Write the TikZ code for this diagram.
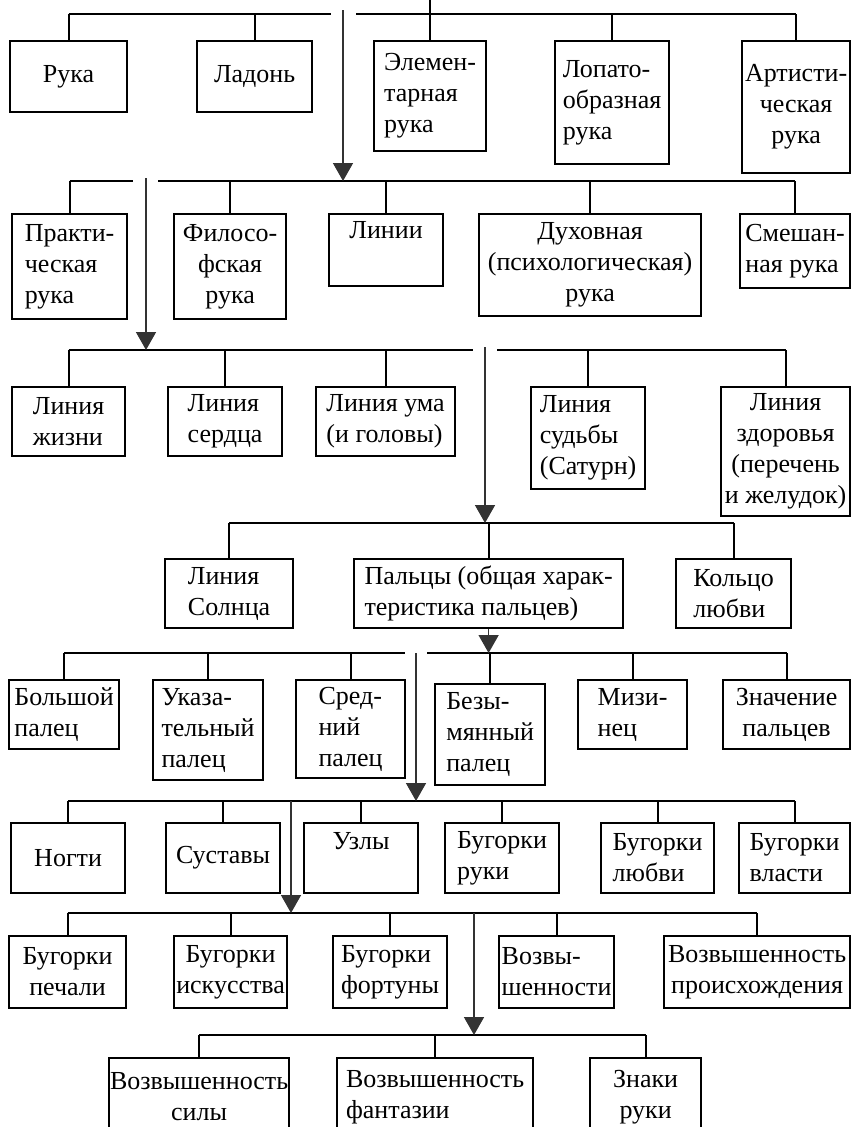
\documentclass[tikz,border=0pt]{standalone}
\usepackage{fontspec}
\setmainfont{Liberation Serif}
\usetikzlibrary{arrows.meta, positioning, calc}
\tikzset{
  box/.style={
    draw,
    line width=2.2pt,
    anchor=north west,
    inner xsep=0pt,
    inner ysep=2pt,
    align=left,
    font=\fontsize{26}{31}\selectfont
  },
  boxc/.style={box, align=center},
  bus/.style={line width=2pt},
  arr/.style={
    line width=1.6pt,
    draw=black!80,
    -{Triangle[width=20pt,length=18pt]}
  }
}

\begin{document}
\begin{tikzpicture}[x=1pt, y=-1pt]
  \clip (0,0) rectangle (851,1127);
  % levels of the buses
  \coordinate (top) at (0,0);
  \coordinate (b1) at (0,14);
  \coordinate (b2) at (0,181);
  \coordinate (b3) at (0,350);
  \coordinate (b4) at (0,523);
  \coordinate (b5) at (0,653);
  \coordinate (b6) at (0,801);
  \coordinate (b7) at (0,913);
  \coordinate (b8) at (0,1035);

  % row 1
  \node[boxc, minimum width=117pt, minimum height=71pt] (ruka) at (9,40) {Рука};
  \node[boxc, minimum width=115pt, minimum height=71pt] (ladon) at (196,40) {Ладонь};
  \node[box, minimum width=112pt, minimum height=110pt] (elem) at (373,40) {Элемен-\\тарная\\рука};
  \node[box, minimum width=114pt, minimum height=123pt] (lopat) at (554,40) {Лопато-\\образная\\рука};
  \node[boxc, minimum width=108pt, minimum height=132pt] (artist) at (741,40) {Артисти-\\ческая\\рука};

  % row 2
  \node[box, minimum width=115pt, minimum height=105pt] (prakt) at (11,213) {Практи-\\ческая\\рука};
  \node[boxc, minimum width=112pt, minimum height=105pt] (filos) at (173,213) {Филосо-\\фская\\рука};
  \node[boxc, minimum width=114pt, minimum height=72pt, text depth=40pt] (linii) at (328,213) {Линии};
  \node[boxc, minimum width=222pt, minimum height=102pt] (duh) at (478,213) {Духовная\\(психологическая)\\рука};
  \node[box, minimum width=110pt, minimum height=74pt] (smesh) at (739,213) {Смешан-\\ная рука};

  % row 3
  \node[box, minimum width=113pt, minimum height=69pt] (zhizn) at (11,386) {Линия\\жизни};
  \node[box, minimum width=114pt, minimum height=69pt] (serd) at (167,386) {Линия\\сердца};
  \node[box, minimum width=139pt, minimum height=69pt] (uma) at (315,386) {Линия ума\\(и головы)};
  \node[box, minimum width=114pt, minimum height=102pt] (sudb) at (530,386) {Линия\\судьбы\\(Сатурн)};
  \node[boxc, minimum width=129pt, minimum height=129pt] (zdor) at (720,386) {Линия\\здоровья\\(перечень\\и желудок)};

  % row 4
  \node[box, minimum width=128pt, minimum height=69pt] (solnce) at (164,558) {Линия\\Солнца};
  \node[box, minimum width=269pt, minimum height=69pt] (palcy) at (353,558) {Пальцы (общая харак-\\теристика пальцев)};
  \node[box, minimum width=115pt, minimum height=69pt] (kolco) at (675,558) {Кольцо\\любви};

  % row 5
  \node[box, minimum width=110pt, minimum height=69pt] (bolsh) at (8,679) {Большой\\палец};
  \node[box, minimum width=110pt, minimum height=100pt] (ukaz) at (152,679) {Указа-\\тельный\\палец};
  \node[box, minimum width=109pt, minimum height=98pt] (sred) at (295,679) {Сред-\\ний\\палец};
  \node[box, minimum width=110pt, minimum height=101pt] (bezym) at (434,683) {Безы-\\мянный\\палец};
  \node[box, minimum width=109pt, minimum height=69pt] (mizin) at (577,679) {Мизи-\\нец};
  \node[boxc, minimum width=127pt, minimum height=69pt] (znach) at (722,679) {Значение\\пальцев};

  % row 6
  \node[boxc, minimum width=114pt, minimum height=70pt] (nogti) at (10,822) {Ногти};
  \node[boxc, minimum width=114pt, minimum height=70pt] (sust) at (165,822) {Суставы};
  \node[boxc, minimum width=114pt, minimum height=70pt, text depth=34pt] (uzly) at (303,822) {Узлы};
  \node[box, minimum width=114pt, minimum height=70pt] (bugruki) at (444,822) {Бугорки\\руки};
  \node[box, minimum width=113pt, minimum height=70pt] (buglubvi) at (600,822) {Бугорки\\любви};
  \node[box, minimum width=111pt, minimum height=70pt] (bugvlasti) at (738,822) {Бугорки\\власти};

  % row 7
  \node[boxc, minimum width=117pt, minimum height=72pt] (pechali) at (8,935) {Бугорки\\печали};
  \node[boxc, minimum width=113pt, minimum height=72pt] (iskus) at (173,935) {Бугорки\\искусства};
  \node[box, minimum width=114pt, minimum height=72pt] (fortun) at (332,935) {Бугорки\\фортуны};
  \node[box, minimum width=115pt, minimum height=72pt] (vozv) at (498,935) {Возвы-\\шенности};
  \node[boxc, minimum width=186pt, minimum height=72pt] (proish) at (663,935) {Возвышенность\\происхождения};

  % row 8
  \node[boxc, minimum width=180pt, minimum height=78pt] (sily) at (108,1057) {Возвышенность\\силы};
  \node[box, minimum width=196pt, minimum height=78pt] (fant) at (336,1057) {Возвышенность\\фантазии};
  \node[boxc, minimum width=111pt, minimum height=78pt] (znaki) at (589,1057) {Знаки\\руки};

  % gaps in the buses, where the arrows pass
  \coordinate (g1l) at (331,14);   \coordinate (g1r) at (356,14);
  \coordinate (g2l) at (133,181);  \coordinate (g2r) at (158,181);
  \coordinate (g3l) at (473,350);  \coordinate (g3r) at (497,350);
  \coordinate (g5l) at (405,653);  \coordinate (g5r) at (427,653);

  % buses and stems
  \draw[bus] (elem.north |- top) -- (elem.north);
  \draw[bus] (ruka.north |- b1) -- (g1l) (g1r) -- (artist.north |- b1);
  \foreach \n in {ruka,ladon,lopat,artist}
    \draw[bus] (\n.north |- b1) -- (\n.north);
  \draw[bus] (prakt.north |- b2) -- (g2l) (g2r) -- (smesh.north |- b2);
  \foreach \n in {prakt,filos,linii,duh,smesh}
    \draw[bus] (\n.north |- b2) -- (\n.north);
  \draw[bus] (zhizn.north |- b3) -- (g3l) (g3r) -- (zdor.north |- b3);
  \foreach \n in {zhizn,serd,uma,sudb,zdor}
    \draw[bus] (\n.north |- b3) -- (\n.north);
  \draw[bus] (solnce.north |- b4) -- (kolco.north |- b4);
  \foreach \n in {solnce,palcy,kolco}
    \draw[bus] (\n.north |- b4) -- (\n.north);
  \draw[bus] (bolsh.north |- b5) -- (g5l) (g5r) -- (znach.north |- b5);
  \foreach \n in {bolsh,ukaz,sred,bezym,mizin,znach}
    \draw[bus] (\n.north |- b5) -- (\n.north);
  \draw[bus] (nogti.north |- b6) -- (bugvlasti.north |- b6);
  \foreach \n in {nogti,sust,uzly,bugruki,buglubvi,bugvlasti}
    \draw[bus] (\n.north |- b6) -- (\n.north);
  \draw[bus] (pechali.north |- b7) -- (proish.north |- b7);
  \foreach \n in {pechali,iskus,fortun,vozv,proish}
    \draw[bus] (\n.north |- b7) -- (\n.north);
  \draw[bus] (sily.north |- b8) -- (znaki.north |- b8);
  \foreach \n in {sily,fant,znaki}
    \draw[bus] (\n.north |- b8) -- (\n.north);

  % arrows between the levels
  \coordinate (a1) at (343,10);
  \coordinate (a2) at (146,178);
  \coordinate (a3) at (485,347);
  \coordinate (a5) at (416,653);
  \coordinate (a6) at (291,801);
  \coordinate (a7) at (474,913);
  \draw[arr] (a1) -- (a1 |- b2);
  \draw[arr] (a2) -- (a2 |- b3);
  \draw[arr] (a3) -- (a3 |- b4);
  \draw[arr] (palcy.south) -- (palcy.south |- b5);
  \draw[arr] (a5) -- (a5 |- b6);
  \draw[arr] (a6) -- (a6 |- b7);
  \draw[arr] (a7) -- (a7 |- b8);
\end{tikzpicture}
\end{document}
